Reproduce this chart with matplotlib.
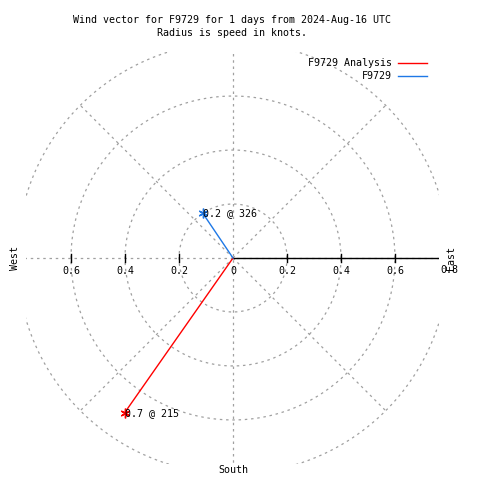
import numpy as np
import matplotlib
matplotlib.use('Agg')
import matplotlib.pyplot as plt

# data
names = ['F9729 Analysis', 'F9729']
speeds = [0.7, 0.2]          # knots
directions = [215, 326]      # degrees (compass)
colors = ['#ff0000', '#1e78e6']
rings = [0.2, 0.4, 0.6, 0.8]
spokes = [45, 135, 225, 315]
ticks = [-0.6, -0.4, -0.2, 0, 0.2, 0.4, 0.6]
tick_labels = ['0.6', '0.4', '0.2', '0', '0.2', '0.4', '0.6']

plt.rcParams['font.family'] = ['DejaVu Sans Mono']
fs = 7.2
grey = '#a0a0a0'

fig = plt.figure(figsize=(4.8, 4.8), dpi=100)
lim = 0.765
ax = fig.add_axes([0.0552, 0.0323, 0.8604, 0.8604])
ax.set_xlim(-lim, lim)
ax.set_ylim(-lim, lim)
ax.set_aspect('equal')
ax.axis('off')

# polar grid
t = np.linspace(0, 2 * np.pi, 400)
for r in rings:
    ax.plot(r * np.cos(t), r * np.sin(t), color=grey, lw=0.9, ls=(0, (2, 3)))
for a in spokes:
    ax.plot([0, 0.8 * np.cos(np.radians(a))], [0, 0.8 * np.sin(np.radians(a))],
            color=grey, lw=0.9, ls=(0, (2, 3)))
ax.plot([-1, 1], [0, 0], color=grey, lw=0.9, ls=(0, (2, 3)))
ax.plot([0, 0], [-1, 1], color=grey, lw=0.9, ls=(0, (2, 3)))
ax.plot([0, 1], [0, 0], color='black', lw=1.0)

# tick marks and labels
for x, lab in zip(ticks, tick_labels):
    if x != 0:
        ax.plot([x, x], [-0.015, 0.015], color='black', lw=1.0)
    ax.text(x, -0.03, lab, ha='center', va='top', fontsize=fs)
fig.text(449 / 480, 1 - 270 / 480, '0.8', ha='center', va='center', fontsize=fs)
fig.text(451 / 480, 1 - 258 / 480, 'East', ha='center', va='center', rotation=90, fontsize=fs)
fig.text(15 / 480, 1 - 258 / 480, 'West', ha='center', va='center', rotation=90, fontsize=fs)
fig.text(233 / 480, 1 - 470 / 480, 'South', ha='center', va='center', fontsize=fs)

# wind vectors
for s, d, c in zip(speeds, directions, colors):
    x = s * np.sin(np.radians(d))
    y = s * np.cos(np.radians(d))
    ax.plot([0, x], [0, y], color=c, lw=1.0)
    ax.plot(x, y, marker=(6, 2, 0), color=c, ms=7, mew=1.0)
    ax.text(x, y, '%.1f @ %d' % (s, d), ha='left', va='center', fontsize=fs)

# legend
for i, (n, c) in enumerate(zip(names, colors)):
    yy = 1 - (63 + 13 * i) / 480
    fig.text(392 / 480, yy, n, ha='right', va='center', fontsize=fs)
    fig.add_artist(plt.Line2D([398 / 480, 427 / 480], [yy, yy], color=c, lw=1.0,
                              transform=fig.transFigure))

fig.text(232 / 480, 1 - 20 / 480, 'Wind vector for F9729 for 1 days from 2024-Aug-16 UTC',
         ha='center', va='center', fontsize=fs)
fig.text(232 / 480, 1 - 33 / 480, 'Radius is speed in knots.',
         ha='center', va='center', fontsize=fs)

fig.savefig('out.png', dpi=100)
